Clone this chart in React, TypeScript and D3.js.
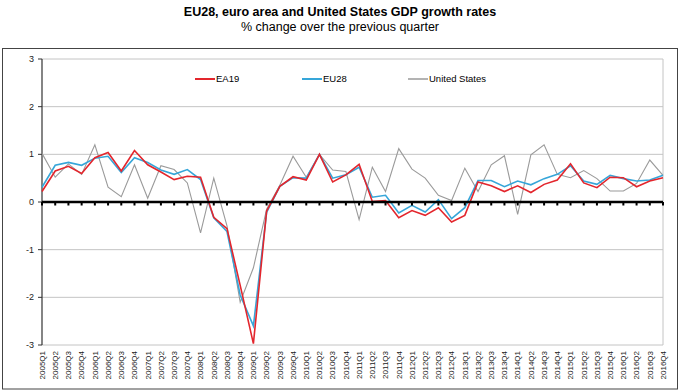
import React from "react";
import * as d3 from "d3";

const quarters: string[] = [];
const years = ["2005","2006","2007","2008","2009","2010","2011","2012","2013","2014","2015","2016"];
const qs = ["Q1","Q2","Q3","Q4"];
for (const y of years) for (const q of qs) quarters.push(y + q);

const ea19 = [0.22,0.65,0.75,0.6,0.93,1.04,0.65,1.08,0.78,0.63,0.47,0.54,0.52,-0.32,-0.56,-1.75,-2.97,-0.19,0.33,0.53,0.46,1.0,0.42,0.57,0.79,0.01,0.03,-0.33,-0.18,-0.28,-0.12,-0.42,-0.28,0.42,0.34,0.22,0.34,0.2,0.37,0.46,0.8,0.4,0.3,0.52,0.51,0.32,0.44,0.51];
const eu28 = [0.31,0.77,0.83,0.77,0.92,0.96,0.62,0.93,0.83,0.67,0.58,0.68,0.47,-0.33,-0.62,-1.95,-2.6,-0.22,0.33,0.51,0.5,1.0,0.5,0.57,0.73,0.1,0.14,-0.23,-0.07,-0.21,0.05,-0.35,-0.12,0.45,0.45,0.32,0.44,0.36,0.49,0.58,0.76,0.44,0.37,0.56,0.49,0.44,0.46,0.56];
const us = [1.02,0.52,0.8,0.58,1.2,0.31,0.11,0.78,0.08,0.76,0.68,0.4,-0.65,0.5,-0.5,-2.1,-1.38,-0.15,0.35,0.96,0.52,1.0,0.67,0.64,-0.37,0.73,0.22,1.12,0.69,0.5,0.14,0.03,0.71,0.22,0.78,0.97,-0.26,0.99,1.2,0.58,0.51,0.66,0.49,0.23,0.23,0.39,0.88,0.56];

const yTicks = [-3,-2,-1,0,1,2,3];
const seriesNames = ["EA19","EU28","United States"];

const W = 680, H = 391;
const L = 42, R = 663, T = 59, B = 345;

export default function App() {
  const x = d3.scalePoint<string>().domain(quarters).range([L, R]);
  const y = d3.scaleLinear().domain([-3, 3]).range([B, T]);
  const line = d3.line<number>().x((_, i) => x(quarters[i])!).y(d => y(d));
  const font = "'Liberation Sans', Arial, sans-serif";
  const series = [
    { name: seriesNames[0], data: ea19, color: "#e3262d", w: 1.6 },
    { name: seriesNames[1], data: eu28, color: "#36a6d9", w: 1.6 },
    { name: seriesNames[2], data: us, color: "#9a9a9a", w: 1.1 },
  ];
  const legendX = [195, 302, 408];
  return (
    <svg width={W} height={H} style={{ position: "absolute", left: 0, top: 0 }} fontFamily={font}>
      <rect x={0} y={0} width={W} height={H} fill="#fff" />
      <text x={340} y={15.5} textAnchor="middle" fontSize={12.5} fontWeight="bold" fill="#000">
        EU28, euro area and United States GDP growth rates
      </text>
      <text x={340} y={31} textAnchor="middle" fontSize={12.5} fill="#000">
        % change over the previous quarter
      </text>
      <rect x={2.5} y={48.5} width={675} height={340.5} fill="none" stroke="#444" strokeWidth={1} />
      {yTicks.filter(t => t !== 0).map(t => (
        <line key={"g" + t} x1={L} x2={R} y1={y(t)} y2={y(t)} stroke="#c4c4c4" strokeWidth={1} />
      ))}
      <line x1={R} x2={R} y1={T} y2={B} stroke="#c4c4c4" strokeWidth={1} />
      {yTicks.map(t => (
        <g key={"yt" + t}>
          <line x1={L - 4} x2={L} y1={y(t)} y2={y(t)} stroke="#333" strokeWidth={1} />
          <text x={34} y={y(t)} dy="0.35em" textAnchor="end" fontSize={9} fill="#222">{t}</text>
        </g>
      ))}
      <line x1={L} x2={L} y1={T} y2={B} stroke="#333" strokeWidth={1.2} />
      {quarters.map(q => (
        <text key={q} transform={`translate(${x(q)},351) rotate(-90)`} textAnchor="end" dy="0.35em" fontSize={8} fill="#222">{q}</text>
      ))}
      {[...series].reverse().map(s => (
        <path key={s.name} d={line(s.data)!} fill="none" stroke={s.color} strokeWidth={s.w} strokeLinejoin="miter" />
      ))}
      <line x1={L} x2={R} y1={y(0)} y2={y(0)} stroke="#000" strokeWidth={2.5} />
      {quarters.map(q => (
        <line key={"xt" + q} x1={x(q)} x2={x(q)} y1={y(0)} y2={y(0) + 3.5} stroke="#000" strokeWidth={2} />
      ))}
      {series.map((s, i) => (
        <g key={"lg" + s.name}>
          <line x1={legendX[i]} x2={legendX[i] + 20} y1={79} y2={79} stroke={s.color} strokeWidth={s.w + 0.4} />
          <text x={legendX[i] + 21} y={79} dy="0.35em" fontSize={9.5} fill="#000">{s.name}</text>
        </g>
      ))}
    </svg>
  );
}
